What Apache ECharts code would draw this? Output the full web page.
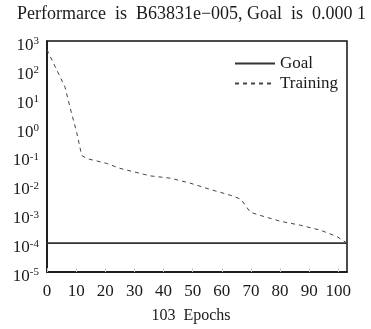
<!DOCTYPE html>
<html><head><meta charset="utf-8">
<script src="https://cdn.jsdelivr.net/npm/echarts@6/dist/echarts.min.js"></script>
<style>html,body{margin:0;padding:0;background:#fff}#c{width:371px;height:329px}</style>
</head><body><div id="c"></div>
<script>
const titleText = 'Performarce  is  B63831e−005, Goal  is  0.000 1';
const xName = '103  Epochs';
const trainingEpochs = [0, 6.2, 7.7, 10.2, 11.9, 13.6, 20.5, 25, 35.4, 42.3, 49.1, 56, 62.9, 66.6, 69.8, 73.2, 80, 87, 93.8, 99.5, 103];
const trainingLog10 = [2.70, 1.40, 0.78, -0.17, -0.96, -1.07, -1.24, -1.41, -1.67, -1.75, -1.92, -2.14, -2.34, -2.48, -2.93, -3.04, -3.24, -3.38, -3.55, -3.77, -4.0];
const goalEpochs = [0, 103];
const goalValues = [1e-4, 1e-4];
const legendNames = ['Goal', 'Training'];

const trainingData = trainingEpochs.map((e, i) => [e, Math.pow(10, trainingLog10[i])]);
const goalData = goalEpochs.map((e, i) => [e, goalValues[i]]);
const serif = '"Liberation Serif", "DejaVu Serif", serif';

const chart = echarts.init(document.getElementById('c'), null, {renderer: 'canvas'});
chart.setOption({
  animation: false,
  backgroundColor: '#fff',
  title: {
    text: titleText, left: 12, top: 0,
    textStyle: {fontFamily: serif, fontSize: 18, fontWeight: 'normal', color: '#1a1a1a'}
  },
  legend: {
    orient: 'vertical', left: 229, top: 50, itemWidth: 40, itemHeight: 14, itemGap: 3,
    itemStyle: {opacity: 0},
    textStyle: {fontFamily: serif, fontSize: 17, color: '#1a1a1a'},
    data: legendNames
  },
  grid: {left: 47, right: 24, top: 41, bottom: 51, show: true, borderColor: '#111', borderWidth: 1.5},
  xAxis: {
    type: 'value', min: 0, max: 103, interval: 10,
    name: xName, nameLocation: 'middle', nameGap: 36,
    nameTextStyle: {fontFamily: serif, fontSize: 16, color: '#1a1a1a', padding: [0, 12, 0, 0]},
    axisLine: {show: true, lineStyle: {color: '#111', width: 1.5}},
    axisTick: {show: true, inside: true, length: 4, lineStyle: {color: '#ccc'}},
    axisLabel: {showMaxLabel: false, fontFamily: serif, fontSize: 17, color: '#1a1a1a', margin: 11},
    splitLine: {show: false}
  },
  yAxis: {
    type: 'log', logBase: 10, min: 1e-5, max: 1e3,
    axisLine: {show: true, lineStyle: {color: '#111', width: 1.5}},
    axisTick: {show: false},
    splitLine: {show: false},
    axisLabel: {
      margin: 8,
      padding: [8, 0, 0, 0],
      formatter: v => '{b|10}{s|' + Math.round(Math.log10(v)) + '}',
      rich: {
        b: {fontFamily: serif, fontSize: 17, color: '#1a1a1a', verticalAlign: 'bottom'},
        s: {fontFamily: serif, fontSize: 11, color: '#1a1a1a', verticalAlign: 'bottom', padding: [0, 0, 7, 0]}
      }
    }
  },
  series: [
    {name: 'Goal', type: 'line', data: goalData, showSymbol: false, symbol: 'none',
     lineStyle: {color: '#333', width: 1.6}, itemStyle: {color: '#333'}},
    {name: 'Training', type: 'line', data: trainingData, showSymbol: false, symbol: 'none',
     lineStyle: {color: '#444', width: 1, type: [4, 4]}, itemStyle: {color: '#444'}}
  ]
});
</script></body></html>
